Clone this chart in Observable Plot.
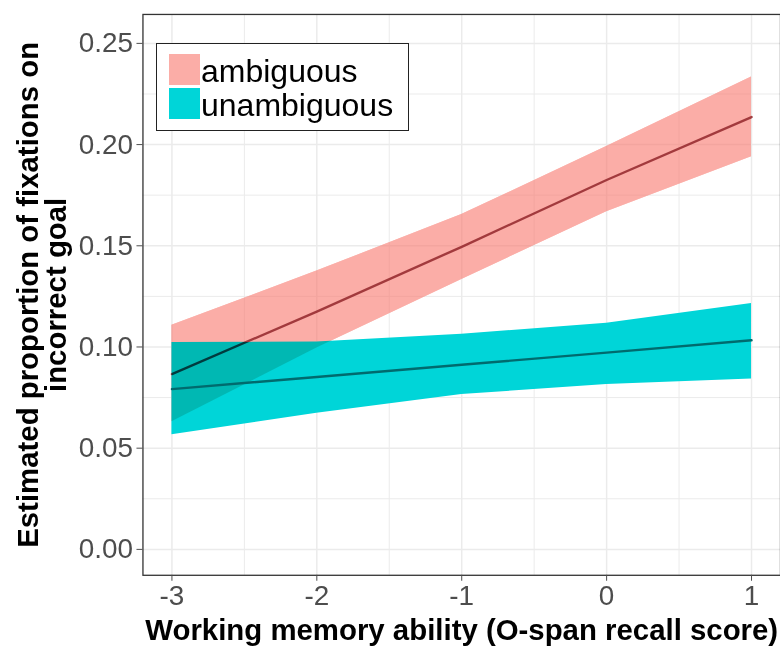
<!DOCTYPE html>
<html><head><meta charset="utf-8">
<script src="https://cdn.jsdelivr.net/npm/d3@7"></script>
<script src="https://cdn.jsdelivr.net/npm/@observablehq/plot@0.6"></script>
<style>
html,body{margin:0;padding:0;background:#fff;overflow:hidden;}
#wrap{position:relative;width:780px;height:648px;overflow:hidden;font-family:"Liberation Sans",Arial,sans-serif;}
#legend{position:absolute;left:156px;top:43px;width:251px;height:86px;border:1.5px solid #222;background:#fff;}
.key{position:absolute;left:12px;width:31px;height:31px;}
.lab{position:absolute;left:44px;font-size:32px;line-height:32px;color:#000;white-space:nowrap;}
</style></head><body><div id="wrap"><div id="chart"></div><div id="legend"></div></div>
<script>
// ---- data ----
const groups = ["ambiguous", "unambiguous"];
const groupColors = ["#F8766D", "#00D5D8"];
const xVals = [-3, -2, -1, 0, 1];
const ambFit  = [0.0866, 0.1175, 0.1495, 0.1825, 0.2136];
const ambLow  = [0.0630, 0.0995, 0.1334, 0.1668, 0.1940];
const ambHigh = [0.1107, 0.1375, 0.1654, 0.1990, 0.2334];
const unaFit  = [0.0792, 0.0852, 0.0912, 0.0972, 0.1033];
const unaLow  = [0.0566, 0.0672, 0.0765, 0.0815, 0.0842];
const unaHigh = [0.1022, 0.1025, 0.1063, 0.1117, 0.1215];
const xTicks = [-3, -2, -1, 0, 1];
const xMinor = [-2.5, -1.5, -0.5, 0.5];
const yTicks = [0, 0.05, 0.10, 0.15, 0.20, 0.25];
const yMinor = [0.025, 0.075, 0.125, 0.175, 0.225];
const xTitle = "Working memory ability (O-span recall score)";
const yTitle = "Estimated proportion of fixations on\nincorrect goal";

const amb = xVals.map((x, i) => ({x, fit: ambFit[i], lo: ambLow[i], hi: ambHigh[i]}));
const una = xVals.map((x, i) => ({x, fit: unaFit[i], lo: unaLow[i], hi: unaHigh[i]}));

const font = '"Liberation Sans", Arial, sans-serif';
const plot = Plot.plot({
  width: 783, height: 648,
  marginLeft: 143, marginRight: 0, marginTop: 14, marginBottom: 71,
  x: {domain: [-3.2, 1.2]},
  y: {domain: [-0.0128, 0.2643]},
  style: {fontFamily: font, background: "white", overflow: "visible"},
  marks: [
    Plot.gridX(xMinor, {stroke: "#EBEBEB", strokeOpacity: 1, strokeWidth: 1}),
    Plot.gridY(yMinor, {stroke: "#EBEBEB", strokeOpacity: 1, strokeWidth: 1}),
    Plot.gridX(xTicks, {stroke: "#EBEBEB", strokeOpacity: 1, strokeWidth: 1.5}),
    Plot.gridY(yTicks, {stroke: "#EBEBEB", strokeOpacity: 1, strokeWidth: 1.5}),
    Plot.areaY(amb, {x: "x", y1: "lo", y2: "hi", fill: groupColors[0], fillOpacity: 0.6}),
    Plot.areaY(una, {x: "x", y1: "lo", y2: "hi", fill: groupColors[1]}),
    Plot.areaY(amb, {x: "x", y1: "lo", y2: "hi", fill: "#FBADA7", fillOpacity: 0.75, mixBlendMode: "darken"}),
    Plot.line(una, {x: "x", y: "fit", stroke: "#006B6E", strokeWidth: 2.4}),
    Plot.line(amb, {x: "x", y: "fit", stroke: "#9A3034", strokeWidth: 2.4, strokeOpacity: 0.92, mixBlendMode: "darken"}),
    Plot.frame({stroke: "#333", strokeWidth: 1.3}),
    Plot.axisX(xTicks, {tickSize: 6, tickPadding: 4, fontSize: 28, color: "#4D4D4D", tickFormat: d => String(d), label: null}),
    Plot.axisY(yTicks, {tickSize: 6, tickPadding: 4, fontSize: 28, color: "#4D4D4D", tickFormat: d => d.toFixed(2), label: null}),
    Plot.text([xTitle], {text: d => d, frameAnchor: "bottom", textAnchor: "middle", dy: 65, fontSize: 29.5, fontWeight: "bold", fill: "black"}),
    Plot.text([yTitle], {text: d => d, frameAnchor: "left", textAnchor: "middle", lineAnchor: "middle", dx: -100, rotate: -90, fontSize: 29.5, fontWeight: "bold", lineHeight: 0.95, fill: "black"})
  ]
});
document.getElementById("chart").appendChild(plot);

const legend = document.getElementById("legend");
const keyColors = ["rgba(248,118,109,0.6)", groupColors[1]];
groups.forEach((g, i) => {
  const k = document.createElement("div");
  k.className = "key";
  k.style.top = (9.5 + 34 * i) + "px";
  k.style.background = keyColors[i];
  legend.appendChild(k);
  const t = document.createElement("div");
  t.className = "lab";
  t.style.top = (11 + 34 * i) + "px";
  t.textContent = g;
  legend.appendChild(t);
});
</script></body></html>
